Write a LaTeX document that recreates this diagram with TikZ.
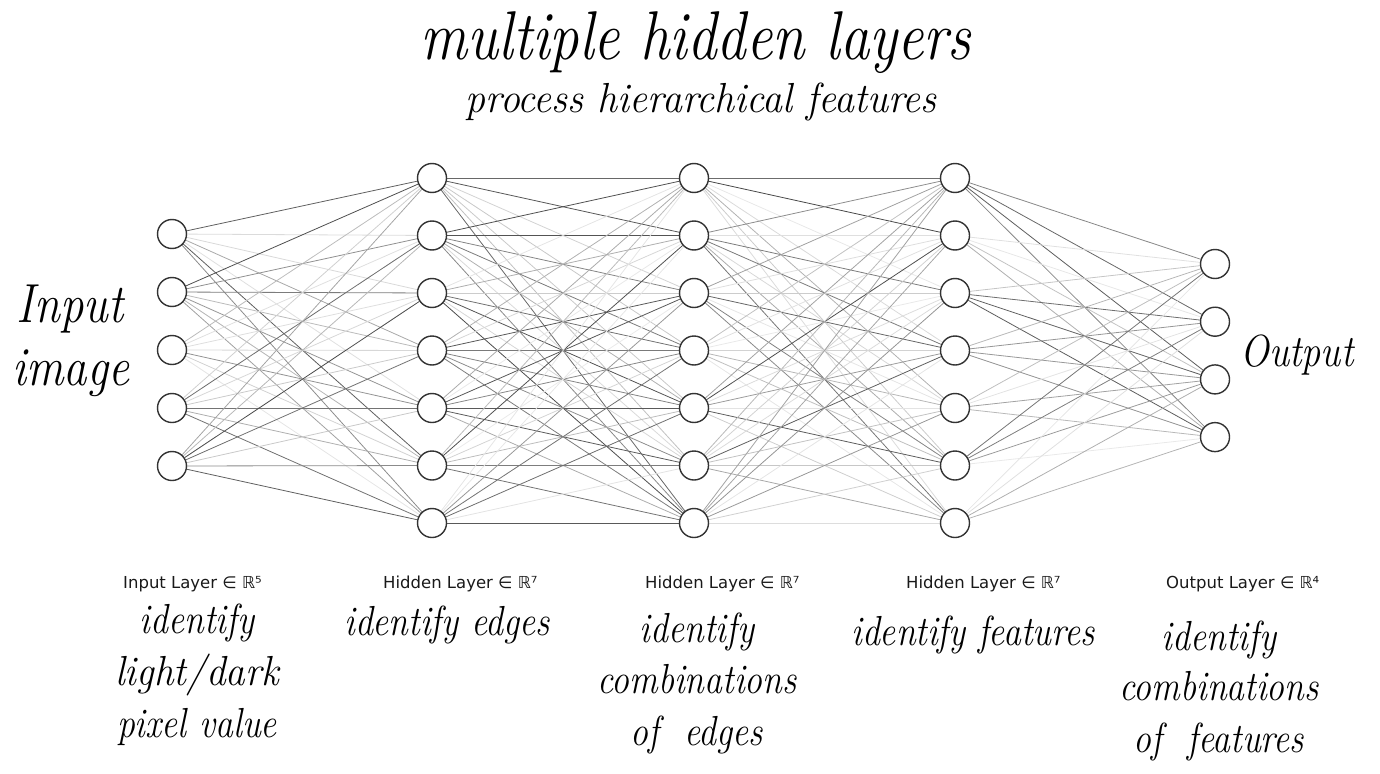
\documentclass[tikz,border=0pt]{standalone}
\usepackage{fontspec}
\usepackage{graphicx}
\setmainfont{Latin Modern Roman}
\newfontfamily\labelfont{DejaVu Sans}
\usetikzlibrary{backgrounds}
\newcommand\hw[3][0.85]{{\fontsize{#2}{#2}\selectfont\scalebox{#1}[1]{\itshape #3}}}
\begin{document}
\begin{tikzpicture}[x=1pt,y=-1pt,
  neuron/.style={circle,draw=black!80,line width=1.4pt,fill=white,minimum size=29pt,inner sep=0pt},
  layerlabel/.style={font=\labelfont\fontsize{16.5}{16.5}\selectfont,anchor=base west,inner sep=0pt,text=black!90},
  hwtext/.style={anchor=base,inner sep=0pt}]
\useasboundingbox (0,0) rectangle (1380,773);
% neurons
\foreach \i in {1,...,5} \node[neuron] (a\i) at (172,{234+58*(\i-1)}) {};
\foreach \i in {1,...,7} \node[neuron] (b\i) at (432,{178+57.5*(\i-1)}) {};
\foreach \i in {1,...,7} \node[neuron] (c\i) at (694,{178+57.5*(\i-1)}) {};
\foreach \i in {1,...,7} \node[neuron] (d\i) at (955,{178+57.5*(\i-1)}) {};
\foreach \i in {1,...,4} \node[neuron] (e\i) at (1215,{264+57.7*(\i-1)}) {};
% connections
\begin{scope}[on background layer]
\pgfmathsetseed{7}
\foreach \i in {1,...,5}\foreach \j in {1,...,7}{
  \pgfmathsetmacro\g{8+64*rnd^1.2}
  \draw[black!\g, line width=0.8pt] (a\i) -- (b\j);}
\foreach \i in {1,...,7}\foreach \j in {1,...,7}{
  \pgfmathsetmacro\g{8+64*rnd^1.2}
  \draw[black!\g, line width=0.8pt] (b\i) -- (c\j);}
\foreach \i in {1,...,7}\foreach \j in {1,...,7}{
  \pgfmathsetmacro\g{8+64*rnd^1.2}
  \draw[black!\g, line width=0.8pt] (c\i) -- (d\j);}
\foreach \i in {1,...,7}\foreach \j in {1,...,4}{
  \pgfmathsetmacro\g{8+64*rnd^1.2}
  \draw[black!\g, line width=0.8pt] (d\i) -- (e\j);}
\end{scope}
% title
\node[hwtext] (title) at (696,60) {\hw{69}{multiple hidden layers}};
\node[hwtext] (subtitle) at (701,113) {\hw[0.95]{42}{process hierarchical features}};
% side labels
\node[hwtext] (in1) at (70,322) {\hw{55}{Input}};
\node[hwtext] (in2) at (71,385) {\hw{55}{image}};
\node[hwtext] (out) at (1297,366) {\hw{45}{Output}};
% layer labels
\node[layerlabel] (l1) at (123,588) {Input Layer ∈ ℝ⁵};
\node[layerlabel] (l2) at (383,588) {Hidden Layer ∈ ℝ⁷};
\node[layerlabel] (l3) at (645,588) {Hidden Layer ∈ ℝ⁷};
\node[layerlabel] (l4) at (906,588) {Hidden Layer ∈ ℝ⁷};
\node[layerlabel] (l5) at (1166,588) {Output Layer ∈ ℝ⁴};
% descriptions
\node[hwtext] (t1a) at (197,633) {\hw{42}{identify}};
\node[hwtext] (t1b) at (197,685) {\hw[0.93]{42}{light/dark}};
\node[hwtext] (t1c) at (197,737) {\hw{42}{pixel value}};
\node[hwtext] (t2a) at (447,635) {\hw{42}{identify edges}};
\node[hwtext] (t3a) at (697,642) {\hw{42}{identify}};
\node[hwtext] (t3b) at (697,693) {\hw{42}{combinations}};
\node[hwtext] (t3c) at (697,745) {\hw{42}{of\ \ edges}};
\node[hwtext] (t4a) at (973,645) {\hw{42}{identify features}};
\node[hwtext] (t5a) at (1219,650) {\hw{42}{identify}};
\node[hwtext] (t5b) at (1219,700) {\hw{42}{combinations}};
\node[hwtext] (t5c) at (1219,752) {\hw{42}{of\ \ features}};
\end{tikzpicture}
\end{document}
